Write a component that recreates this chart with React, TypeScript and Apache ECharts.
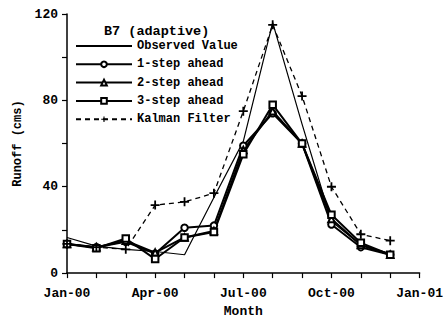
import React, { useEffect, useRef } from "react";
import * as echarts from "echarts";

const monthIndex = [0, 1, 2, 3, 4, 5, 6, 7, 8, 9, 10, 11];
const xTickLabels = ["Jan-00", "", "", "Apr-00", "", "", "Jul-00", "", "", "Oct-00", "", "", "Jan-01"];
const observed = [16.5, 12.5, 11, 10, 8.5, 35, 61, 116, 69, 24, 13, 9];
const step1 = [13.5, 12, 14.5, 9, 21, 22, 59, 74, 60, 22.5, 12, 8.5];
const step2 = [13.5, 12, 15, 9.5, 16.5, 19.5, 57, 75, 60, 25, 13, 8.5];
const step3 = [13.5, 11.5, 16, 6.5, 16.5, 19, 55, 78, 60, 27, 14, 8.5];
const kalman = [13.5, 12, 11, 31.5, 33, 37, 75, 115, 82, 40, 18, 15];
const seriesNames = ["Observed Value", "1-step ahead", "2-step ahead", "3-step ahead", "Kalman Filter"];

const FONT = "'Liberation Mono', 'DejaVu Sans Mono', monospace";
const PLUS = "path://M4,0 L6,0 L6,4 L10,4 L10,6 L6,6 L6,10 L4,10 L4,6 L0,6 L0,4 L4,4 Z";

const pairs = (vals: number[]) => vals.map((v, i) => [monthIndex[i], v]);

export default function App() {
  const ref = useRef<HTMLDivElement>(null);
  useEffect(() => {
    if (!ref.current) return;
    const chart = echarts.init(ref.current, null, { renderer: "svg" });
    const base = {
      type: "line",
      symbolSize: 6.5,
      showSymbol: true,
      itemStyle: { color: "#000", borderWidth: 1.2 },
      lineStyle: { color: "#000", width: 2 },
    };
    chart.setOption({
      animation: false,
      backgroundColor: "#fff",
      title: {
        text: "B7 (adaptive)",
        left: 99,
        top: 19,
        textStyle: { fontFamily: FONT, fontSize: 13.5, fontWeight: "bold", color: "#000" },
      },
      legend: {
        orient: "vertical",
        left: 70,
        top: 35,
        itemWidth: 56,
        itemHeight: 7,
        itemGap: 6.3,
        data: [
          { name: seriesNames[0], itemStyle: { opacity: 0 } },
          seriesNames[1],
          seriesNames[2],
          seriesNames[3],
          seriesNames[4],
        ],
        textStyle: { fontFamily: FONT, fontSize: 12, fontWeight: "bold", color: "#000" },
      },
      grid: { left: 67, right: 24, top: 14, bottom: 47, containLabel: false },
      xAxis: {
        type: "value",
        min: 0,
        max: 12,
        interval: 1,
        name: "Month",
        nameLocation: "middle",
        nameGap: 30,
        nameTextStyle: { fontFamily: FONT, fontSize: 13, fontWeight: "bold", color: "#000" },
        axisLine: { lineStyle: { color: "#000", width: 1.5 } },
        axisTick: { show: true, length: 5, lineStyle: { color: "#000", width: 1.2 } },
        axisLabel: {
          margin: 14,
          fontFamily: FONT,
          fontSize: 13,
          fontWeight: "bold",
          color: "#000",
          showMinLabel: true,
          showMaxLabel: true,
          formatter: (v: number) => xTickLabels[Math.round(v)] ?? "",
        },
        splitLine: { show: false },
      },
      yAxis: {
        type: "value",
        min: 0,
        max: 120,
        interval: 40,
        name: "Runoff (cms)",
        nameLocation: "middle",
        nameGap: 43,
        nameTextStyle: { fontFamily: FONT, fontSize: 12, fontWeight: "bold", color: "#000" },
        axisLine: { show: true, lineStyle: { color: "#000", width: 1.5 } },
        axisTick: { show: true, length: 5, lineStyle: { color: "#000", width: 1.2 } },
        minorTick: { show: true, splitNumber: 2, length: 5, lineStyle: { color: "#000", width: 1.2 } },
        axisLabel: { margin: 9, fontFamily: FONT, fontSize: 13, fontWeight: "bold", color: "#000" },
        splitLine: { show: false },
      },
      series: [
        {
          name: seriesNames[0],
          type: "line",
          data: pairs(observed),
          symbol: "none",
          lineStyle: { color: "#000", width: 1.2 },
          itemStyle: { color: "#000" },
        },
        { ...base, name: seriesNames[1], data: pairs(step1), symbol: "emptyCircle" },
        { ...base, name: seriesNames[2], data: pairs(step2), symbol: "emptyTriangle" },
        { ...base, name: seriesNames[3], data: pairs(step3), symbol: "emptyRect" },
        {
          name: seriesNames[4],
          type: "line",
          data: pairs(kalman),
          symbol: PLUS,
          symbolSize: 9,
          itemStyle: { color: "#000", borderWidth: 0 },
          lineStyle: { color: "#000", width: 1.3, type: [5, 4] },
        },
      ],
    });
    return () => chart.dispose();
  }, []);
  return <div ref={ref} style={{ width: 446, height: 323, position: "absolute", left: 0, top: 0 }} />;
}
